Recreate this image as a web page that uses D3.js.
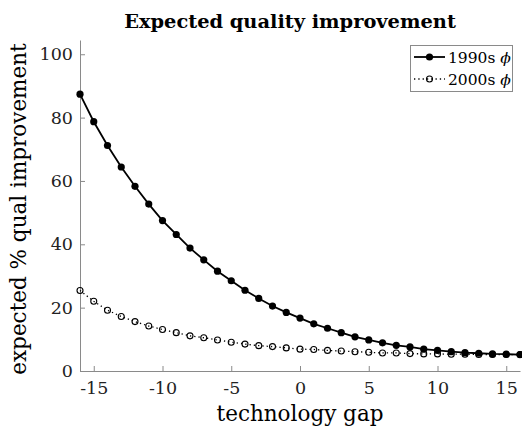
<!DOCTYPE html>
<html><head><meta charset="utf-8">
<script src="https://cdn.jsdelivr.net/npm/d3@7"></script>
<style>body{margin:0;background:#fff}svg{display:block}</style>
</head><body><svg id="c" width="522" height="432"></svg>
<script>
const gap = d3.range(-16, 17);
const phi1990 = [87.4,78.7,71.2,64.4,58.3,52.7,47.5,43.1,38.8,35.1,31.5,28.5,25.5,22.9,20.5,18.5,16.7,14.9,13.5,12.1,10.8,9.8,8.9,8.1,7.6,6.9,6.5,6.1,5.8,5.6,5.4,5.3,5.2];
const phi2000 = [25.4,22.0,19.2,17.2,15.6,14.2,13.1,12.1,11.1,10.5,9.8,9.1,8.5,8.0,7.7,7.3,6.9,6.8,6.5,6.3,6.1,5.9,5.7,5.7,5.5,5.4,5.4,5.3,5.3,5.2,5.2,5.2,5.2];
const xTicks = [-15,-10,-5,0,5,10,15];
const yTicks = [0,20,40,60,80,100];
const seriesNames = ["1990s ", "2000s "];

const svg = d3.select("#c");
const F = "'DejaVu Serif', serif";
const m = {l:80, r:520, t:40, b:371};
const x = d3.scaleLinear().domain([-16,16]).range([m.l, m.r]);
const y = d3.scaleLinear().domain([0,104.5]).range([m.b, m.t]);

// axes
const gx = svg.append("g").attr("transform",`translate(0,${m.b})`)
  .call(d3.axisBottom(x).tickValues(xTicks).tickSizeInner(-5).tickSizeOuter(0).tickPadding(11)
    .tickFormat(d => String(d)));
const gy = svg.append("g").attr("transform",`translate(${m.l},0)`)
  .call(d3.axisLeft(y).tickValues(yTicks).tickSizeInner(-5).tickSizeOuter(0).tickPadding(7));
[gx, gy].forEach(g => {
  g.select(".domain").attr("stroke","#8a8a8a");
  g.selectAll(".tick line").attr("stroke","#8a8a8a");
  g.selectAll("text").attr("font-family",F).attr("font-size",17.5).attr("fill","#222");
});

// series 2000s
const line = d3.line().x((d,i)=>x(gap[i])).y(d=>y(d));
svg.append("path").datum(phi2000).attr("d",line).attr("fill","none")
  .attr("stroke","#000").attr("stroke-width",1.3).attr("stroke-dasharray","1.3,3");
svg.append("g").selectAll("circle").data(phi2000).join("circle")
  .attr("cx",(d,i)=>x(gap[i])).attr("cy",d=>y(d)).attr("r",3)
  .attr("fill","none").attr("stroke","#000").attr("stroke-width",1.1);

// series 1990s
svg.append("path").datum(phi1990).attr("d",line).attr("fill","none")
  .attr("stroke","#000").attr("stroke-width",1.8);
svg.append("g").selectAll("circle").data(phi1990).join("circle")
  .attr("cx",(d,i)=>x(gap[i])).attr("cy",d=>y(d)).attr("r",3.6).attr("fill","#000");

// title and labels
svg.append("text").attr("x",290).attr("y",28).attr("text-anchor","middle")
  .attr("font-family",F).attr("font-weight","bold").attr("font-size",19.4)
  .text("Expected quality improvement");
svg.append("text").attr("x",300).attr("y",421).attr("text-anchor","middle")
  .attr("font-family",F).attr("font-size",21.5).text("technology gap");
svg.append("text").attr("transform","translate(25.5,209) rotate(-90)").attr("text-anchor","middle")
  .attr("font-family",F).attr("font-size",21.5).text("expected % qual improvement");

// legend
const lg = svg.append("g");
lg.append("rect").attr("x",410.5).attr("y",45.5).attr("width",102).attr("height",46)
  .attr("fill","#fff").attr("stroke","#8a8a8a");
const rows = [{name:seriesNames[0], y:57, solid:true},{name:seriesNames[1], y:79, solid:false}];
rows.forEach(r => {
  lg.append("line").attr("x1",414).attr("x2",445).attr("y1",r.y).attr("y2",r.y)
    .attr("stroke","#000").attr("stroke-width", r.solid?1.8:1.3)
    .attr("stroke-dasharray", r.solid?null:"1.3,3");
  lg.append("circle").attr("cx",429.5).attr("cy",r.y).attr("r", r.solid?3.6:3)
    .attr("fill", r.solid?"#000":"none").attr("stroke","#000").attr("stroke-width",r.solid?0:1.1);
  const t = lg.append("text").attr("x",448).attr("y",r.y+5.5).attr("font-family",F).attr("font-size",15.5);
  t.append("tspan").text(r.name);
  t.append("tspan").attr("font-style","italic").text("\u03d5");
});
</script></body></html>
